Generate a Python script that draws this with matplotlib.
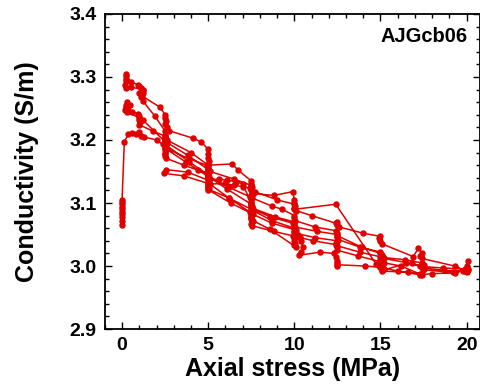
import matplotlib
matplotlib.use("Agg")
import matplotlib.pyplot as plt
from matplotlib.ticker import MultipleLocator
import numpy as np

plt.rcParams['font.family'] = ['Liberation Sans', 'DejaVu Sans']
plt.rcParams['font.weight'] = 'bold'

# cycle 1: initial loading 0 -> 10 MPa, then unloading to ~0.2 MPa
c1_stress = [0.0, 0.0, 0.0, 0.0, 0.0, 0.0, 0.0, 0.0, 0.0, 0.0, 0.13, 0.35, 0.55, 0.8, 1.0, 1.1, 1.25,
             2.0, 2.35, 2.5, 2.5, 2.5, 2.5, 2.52, 2.55, 3.6, 4.4, 4.95, 5.0, 5.0, 5.0, 5.02,
             3.8, 2.55, 2.45, 3.6, 5.0, 5.0, 5.0, 5.02, 5.0,
             6.3, 7.4, 7.5, 7.5, 7.5, 7.55, 7.5, 7.55, 8.8, 9.9, 10.0, 10.0, 10.05, 10.0, 10.1,
             8.6, 7.6, 7.5, 7.5, 7.5, 6.2, 5.1, 5.0, 5.0, 5.0, 3.7, 2.6, 2.5, 2.5, 2.5, 1.2,
             0.3, 0.15, 0.2, 0.2, 0.25, 0.3, 0.45, 0.3]
c1_cond = [3.065, 3.072, 3.077, 3.082, 3.086, 3.090, 3.094, 3.098, 3.101, 3.105, 3.197, 3.209, 3.211, 3.210, 3.212, 3.206, 3.205,
           3.200, 3.193, 3.188, 3.184, 3.180, 3.177, 3.174, 3.171, 3.160, 3.152, 3.147, 3.143, 3.140, 3.138, 3.136,
           3.149, 3.153, 3.147, 3.143, 3.131, 3.128, 3.126, 3.124, 3.121,
           3.100, 3.085, 3.082, 3.078, 3.074, 3.070, 3.067, 3.064, 3.055, 3.048, 3.044, 3.040, 3.037, 3.033, 3.030,
           3.058, 3.072, 3.076, 3.080, 3.084, 3.108, 3.130, 3.134, 3.138, 3.142, 3.165, 3.185, 3.189, 3.193, 3.197, 3.232,
           3.245, 3.248, 3.250, 3.253, 3.256, 3.260, 3.255, 3.253]

# cycle 2: loading to 17.5 MPa, unloading back to ~0.2 MPa
c2_stress = [0.6, 0.9, 1.0, 1.0, 1.0, 1.05, 1.0, 1.8, 2.5, 2.5, 2.5, 2.55, 2.5, 2.6,
             3.9, 4.9, 5.0, 5.0, 5.0, 5.0, 5.05, 6.2, 7.4, 7.5, 7.5, 7.5, 7.55, 7.6,
             8.6, 9.9, 10.0, 10.05, 10.2, 10.3, 10.4, 10.5, 10.4, 10.25,
             11.5, 12.3, 12.4, 12.45, 12.5, 12.45, 12.5, 14.1, 15.0, 15.2, 15.1, 16.6, 17.3, 17.4,
             16.2, 15.2, 15.0, 15.1, 13.8, 12.5, 12.4, 12.5, 11.2, 10.1, 10.0, 10.0,
             8.7, 7.6, 7.5, 7.5, 6.1, 5.0, 5.0, 5.0, 3.8, 2.6, 2.5, 2.5, 2.5,
             1.9, 1.2, 1.1, 1.0, 1.2, 0.5, 0.2, 0.15, 0.2, 0.2, 0.25, 0.2]
c2_cond = [3.245, 3.242, 3.238, 3.235, 3.232, 3.228, 3.224, 3.214, 3.206, 3.203, 3.200, 3.195, 3.190, 3.186,
           3.170, 3.160, 3.156, 3.152, 3.149, 3.146, 3.142, 3.125, 3.110, 3.106, 3.102, 3.099, 3.095, 3.090,
           3.078, 3.068, 3.062, 3.056, 3.050, 3.046, 3.040, 3.030, 3.022, 3.017,
           3.022, 3.020, 3.014, 3.008, 3.004, 3.000, 3.002, 3.000, 2.998, 2.995, 2.992, 2.990, 2.988, 2.986,
           3.000, 3.005, 3.010, 3.014, 3.022, 3.032, 3.037, 3.040, 3.045, 3.052, 3.056, 3.060,
           3.072, 3.088, 3.093, 3.098, 3.122, 3.142, 3.148, 3.153, 3.176, 3.196, 3.202, 3.208, 3.214,
           3.238, 3.262, 3.268, 3.274, 3.280, 3.284, 3.282, 3.288, 3.293, 3.297, 3.301, 3.305]

# cycle 3: loading to 20 MPa, unloading to 2.5 MPa
c3_stress = [0.5, 0.9, 1.0, 1.1, 1.2, 1.2, 1.15, 2.2, 2.5, 2.5, 2.55, 2.5, 2.6, 2.7,
             4.1, 4.6, 5.0, 5.0, 5.0, 5.05, 5.0, 6.4, 6.7, 7.5, 7.5, 7.55, 7.5, 7.6,
             8.8, 9.9, 10.0, 10.0, 10.05, 10.0, 12.4, 14.75, 15.0, 15.1, 15.2, 15.1,
             16.5, 17.3, 17.4, 17.5, 17.45, 19.2, 19.9, 20.0, 20.05, 20.1, 20.0,
             19.3, 17.4, 17.3, 17.4, 17.2, 16.9, 15.1, 15.0, 14.9, 15.0, 14.0,
             12.6, 12.5, 12.5, 12.4, 11.0, 10.1, 10.0, 10.0, 9.0, 7.7, 7.5, 7.5,
             6.5, 5.1, 5.0, 5.0, 4.0, 2.6, 2.5]
c3_cond = [3.292, 3.288, 3.286, 3.283, 3.280, 3.275, 3.270, 3.252, 3.240, 3.235, 3.230, 3.225, 3.220, 3.215,
           3.203, 3.197, 3.185, 3.178, 3.172, 3.166, 3.160, 3.162, 3.153, 3.135, 3.130, 3.125, 3.120, 3.115,
           3.112, 3.118, 3.105, 3.100, 3.095, 3.090, 3.098, 3.003, 3.000, 2.997, 2.995, 2.993,
           3.004, 3.000, 2.998, 2.996, 2.994, 2.990, 2.992, 2.995, 3.000, 3.008, 2.992,
           3.000, 3.012, 3.016, 3.020, 3.028, 3.015, 3.035, 3.040, 3.045, 3.047, 3.052,
           3.062, 3.065, 3.070, 3.068, 3.080, 3.088, 3.092, 3.098, 3.105, 3.118, 3.123, 3.128,
           3.138, 3.150, 3.155, 3.160, 3.180, 3.200, 3.205]

# cycle 4: reloading from 2.5 MPa to 20 MPa, back to 17.3 MPa
c4_stress = [2.5, 2.55, 3.9, 5.0, 5.0, 5.05, 5.6, 6.1, 6.6, 7.0, 7.5, 7.5, 7.55, 8.9, 10.0, 10.0, 10.05,
             11.3, 12.5, 12.5, 12.55, 13.8, 15.0, 15.1, 15.0, 16.4, 17.4, 17.5, 17.45,
             18.6, 19.9, 20.0, 20.1, 19.3, 18.0, 17.3]
c4_cond = [3.198, 3.192, 3.165, 3.145, 3.140, 3.136, 3.138, 3.136, 3.134, 3.130, 3.100, 3.096, 3.092, 3.078, 3.070, 3.066, 3.062,
           3.055, 3.050, 3.046, 3.042, 3.030, 3.022, 3.018, 3.014, 3.010, 3.005, 3.002, 2.999,
           2.997, 2.995, 2.993, 2.996, 2.989, 2.988, 2.986]

# cycle 5: unloading 17.3 -> 5 MPa, reloading 5 -> 20 MPa
c5_stress = [16.0, 15.0, 15.0, 15.1, 13.7, 12.5, 12.5, 12.4, 11.1, 10.2, 10.0, 10.0, 10.1,
             8.7, 7.6, 7.5, 7.5, 6.2, 5.0, 5.0, 5.0,
             6.0, 6.5, 7.0, 7.4, 7.5, 7.55, 8.7, 9.3, 10.0, 10.0, 10.05, 11.2, 12.4, 12.5, 12.5,
             13.9, 15.0, 15.1, 15.2, 16.8, 17.4, 17.5, 18.7, 19.8, 20.0, 20.1]
c5_cond = [2.992, 2.998, 3.002, 3.006, 3.016, 3.025, 3.030, 3.034, 3.040, 3.046, 3.050, 3.054, 3.057,
           3.068, 3.082, 3.086, 3.090, 3.108, 3.122, 3.126, 3.130,
           3.131, 3.128, 3.126, 3.124, 3.112, 3.108, 3.095, 3.090, 3.080, 3.076, 3.072, 3.062, 3.056, 3.052, 3.048,
           3.030, 3.020, 3.016, 3.012, 3.004, 3.000, 2.997, 2.993, 2.992, 2.991, 2.994]

stress = np.concatenate([c1_stress, c2_stress, c3_stress, c4_stress, c5_stress])
cond = np.concatenate([c1_cond, c2_cond, c3_cond, c4_cond, c5_cond])

fig = plt.figure(figsize=(4.81, 3.88), dpi=100)
ax = fig.add_axes([0.218, 0.152, 0.779, 0.812])
ax.plot(stress, cond, color='#e00000', lw=1.1, marker='o', markersize=3.6)

ax.set_xlim(-1, 20.75)
ax.set_ylim(2.9, 3.4)
ax.xaxis.set_major_locator(MultipleLocator(5))
ax.xaxis.set_minor_locator(MultipleLocator(1))
ax.yaxis.set_minor_locator(MultipleLocator(0.02))
ax.set_yticks([2.9, 3.0, 3.1, 3.2, 3.3, 3.4])
ax.set_yticklabels(['2.9', '3.0', '3.1', '3.2', '3.3', '3.4'])
ax.tick_params(which='both', direction='in', top=True, right=True, width=1.0)
ax.tick_params(which='major', length=5, labelsize=14, pad=6)
ax.tick_params(which='minor', length=3)
for s in ax.spines.values():
    s.set_linewidth(1.3)

ax.set_xlabel('Axial stress (MPa)', fontsize=18, fontweight='bold', labelpad=2)
ax.set_ylabel('Conductivity (S/m)', fontsize=18, fontweight='bold', labelpad=22)
ax.text(0.968, 0.93, 'AJGcb06', transform=ax.transAxes, ha='right', va='center',
        fontsize=14.5, fontweight='bold')

fig.savefig('out.png', dpi=100)
